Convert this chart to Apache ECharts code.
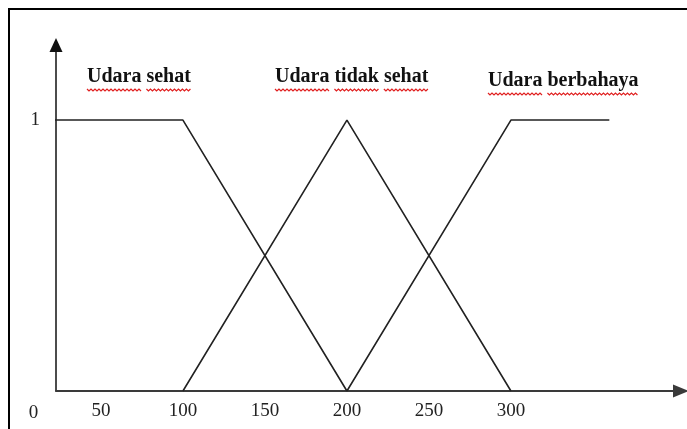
<!DOCTYPE html>
<html>
<head>
<meta charset="utf-8">
<script src="https://cdn.jsdelivr.net/npm/echarts@6/dist/echarts.min.js"></script>
<style>
  html, body { margin: 0; padding: 0; background: #fff; }
  #chart { width: 687px; height: 429px; }
</style>
</head>
<body>
<div id="chart"></div>
<script>
// Fuzzy membership sets for air quality (x: pollutant index, y: membership degree)
const setNames = ['Udara sehat', 'Udara tidak sehat', 'Udara berbahaya'];
const sehatPoints = [[0, 1], [100, 1], [200, 0]];
const tidakSehatPoints = [[100, 0], [200, 1], [300, 0]];
const berbahayaPoints = [[200, 0], [300, 1], [360, 1]];
const xTickLabels = [50, 100, 150, 200, 250, 300];
const yTickLabels = [1];
const originLabel = '0';

const serifFont = '"Liberation Serif", "Times New Roman", serif';
const titleFont = 'bold 20px ' + serifFont;

// Where each set name sits (left edge, baseline)
const titleSpots = [[87, 87], [275, 87], [488, 91]];

// Measure words so the red spell-check squiggle can be drawn under each one
const measureCtx = document.createElement('canvas').getContext('2d');
measureCtx.font = 'bold 20px "Liberation Serif"';

function squiggle(x0, x1, y) {
  const pts = [];
  let up = true;
  for (let x = x0; x <= x1; x += 2) {
    pts.push([x, up ? y : y + 2]);
    up = !up;
  }
  return pts;
}

const graphics = [
  // outer frame
  {
    type: 'rect', silent: true, z: 0,
    shape: { x: 9, y: 9, width: 720, height: 520 },
    style: { fill: 'none', stroke: '#000', lineWidth: 2 }
  },
  // origin label
  {
    type: 'text', silent: true,
    style: {
      x: 33.5, y: 413, text: originLabel, font: '19px ' + serifFont,
      fill: '#222', align: 'center', verticalAlign: 'middle'
    }
  }
];

setNames.forEach(function (name, i) {
  const [left, base] = titleSpots[i];
  graphics.push({
    type: 'text', silent: true,
    style: {
      x: left, y: base, text: name, font: titleFont,
      fill: '#111', align: 'left', verticalAlign: 'bottom'
    }
  });
  // red wavy underline, one per word
  const spaceW = measureCtx.measureText(' ').width;
  let cursor = left;
  name.split(' ').forEach(function (word) {
    const w = measureCtx.measureText(word).width;
    graphics.push({
      type: 'polyline', silent: true,
      shape: { points: squiggle(cursor, cursor + w, base + 2) },
      style: { stroke: '#e02020', lineWidth: 1.2, fill: 'none' }
    });
    cursor += w + spaceW;
  });
});

const lineStyle = { color: '#222', width: 1.6 };

function membershipSeries(name, points) {
  return {
    name: name,
    type: 'line',
    data: points,
    symbol: 'none',
    clip: true,
    lineStyle: lineStyle,
    itemStyle: { color: '#222' }
  };
}

const chart = echarts.init(document.getElementById('chart'), null, { renderer: 'canvas' });
chart.setOption({
  animation: false,
  backgroundColor: '#fff',
  grid: { left: 56, right: 6, top: 45, bottom: 38 },
  xAxis: {
    type: 'value',
    min: 22.6,
    max: 403.7,
    axisLine: {
      show: true,
      symbol: ['none', 'triangle'],
      symbolSize: [13, 16],
      lineStyle: { color: '#3a3a3a', width: 2 }
    },
    axisTick: { show: false },
    splitLine: { show: false },
    axisLabel: {
      customValues: xTickLabels,
      margin: 11,
      color: '#222',
      fontFamily: serifFont,
      fontSize: 19
    }
  },
  yAxis: {
    type: 'value',
    min: 0,
    max: 1.277,
    axisLine: {
      show: true,
      symbol: ['none', 'triangle'],
      symbolSize: [13, 14],
      lineStyle: { color: '#111', width: 1.5 }
    },
    axisTick: { show: false },
    splitLine: { show: false },
    axisLabel: {
      customValues: yTickLabels,
      margin: 16,
      padding: [5, 0, 0, 0],
      color: '#222',
      fontFamily: serifFont,
      fontSize: 19
    }
  },
  series: [
    membershipSeries(setNames[0], sehatPoints),
    membershipSeries(setNames[1], tidakSehatPoints),
    membershipSeries(setNames[2], berbahayaPoints)
  ],
  graphic: graphics
});
</script>
</body>
</html>
